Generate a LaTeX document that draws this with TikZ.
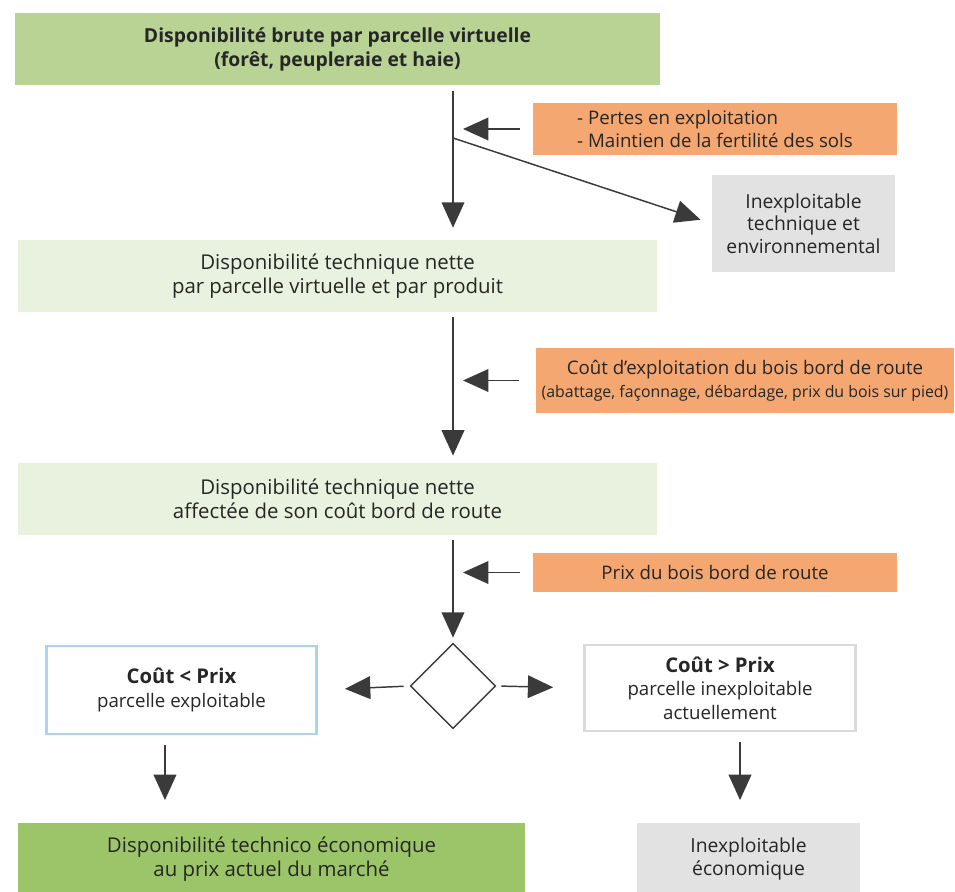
\documentclass[tikz,border=0pt]{standalone}
\usepackage{fontspec}
\setmainfont{Open Sans}
\usetikzlibrary{arrows.meta, positioning, shapes.geometric}

\definecolor{vertbrut}{HTML}{B8D394}
\definecolor{vertclair}{HTML}{E9F1DF}
\definecolor{vertfinal}{HTML}{9CC56A}
\definecolor{orangecout}{HTML}{F4A771}
\definecolor{grisinex}{HTML}{E1E2E1}
\definecolor{bleubord}{HTML}{A9D4EC}
\definecolor{grisbord}{HTML}{D9D9D9}
\definecolor{trait}{HTML}{3A3A3A}

\begin{document}
\begin{tikzpicture}[
    x=0.75pt, y=-0.75pt,
    every node/.style={font=\fontsize{15.3}{18}\selectfont, text=black!85, align=center, inner sep=0pt},
    petit/.style={font=\fontsize{14}{17.5}\selectfont},
    etape/.style={rectangle, minimum width=479pt, minimum height=54pt},
    cout/.style={rectangle, fill=orangecout, minimum width=273pt, minimum height=39pt, petit},
    rebut/.style={rectangle, fill=grisinex, minimum width=137pt, minimum height=73pt, font=\fontsize{14.5}{17}\selectfont},
    issue/.style={rectangle, fill=white, line width=2.2pt, minimum width=203pt, minimum height=66pt, petit},
    test/.style={diamond, draw=trait, line width=1pt, minimum size=64pt},
    fleche/.style={draw=trait, line width=1.1pt, -{Triangle[length=19pt, width=17pt]}}
]

\useasboundingbox (0,0) rectangle (955,891);

% axe vertical des fleches principales
\coordinate (axe) at (453,0);

% ============ Disponibilite brute ============
\node[etape, fill=vertbrut, minimum width=484pt, font=\fontsize{14.5}{18.5}\selectfont\bfseries] (brute) at (337.5,49.5) {Disponibilité brute par parcelle virtuelle\\(forêt, peupleraie et haie)};
\node[cout, align=left] (pertes) at (715,129) {- Pertes en exploitation\\- Maintien de la fertilité des sols};
\node[rebut] (inexTech) at (803.5,223.5) {Inexploitable\\technique et\\environnemental};

% ============ Disponibilite technique ============
\node[etape, fill=vertclair] (technique) at (337.5,276) {Disponibilité technique nette\\par parcelle virtuelle et par produit};
\node[cout, minimum width=314pt, minimum height=48.75pt] (exploitation) at (745,380.5) {Coût d'exploitation du bois bord de route\\{\fontsize{11.9}{17.5}\selectfont(abattage, façonnage, débardage, prix du bois sur pied)}};

% ============ Cout bord de route ============
\node[etape, fill=vertclair] (affectee) at (337.5,498.5) {Disponibilité technique nette\\affectée de son coût bord de route};
\node[cout, minimum height=29pt] (prix) at (715,572.5) {Prix du bois bord de route};

% ============ Comparaison ============
\node[test] (compare) at (453,686) {};
\node[issue, draw=bleubord] (exploitable) at (181.5,690) {{\fontsize{15.2}{17.5}\selectfont\bfseries Coût < Prix}\\parcelle exploitable};
\node[issue, draw=grisbord, minimum height=64.5pt] (actuel) at (720,688) {{\fontsize{15.2}{17.5}\selectfont\bfseries Coût > Prix}\\parcelle inexploitable\\actuellement};

% ============ Resultats ============
\node[rectangle, fill=vertfinal, minimum width=380pt, minimum height=54pt] (marche) at (271.5,859) {Disponibilité technico économique\\au prix actuel du marché};
\node[rebut, minimum width=167pt, minimum height=54pt] (inexEco) at (748.5,859) {Inexploitable\\économique};

% Fleches principales
\draw[fleche, shorten <=3.75pt, shorten >=9pt] (brute.south -| axe) -- (technique.north -| axe);
\draw[fleche, shorten <=3.75pt, shorten >=5pt] (technique.south -| axe) -- (affectee.north -| axe);
\draw[fleche, shorten <=3.75pt, shorten >=3.75pt] (affectee.south -| axe) -- (compare.north);

% Fleches des couts
\draw[fleche, shorten <=9.75pt, shorten >=7.5pt] (pertes.west) -- (pertes.west -| axe);
\draw[fleche, shorten <=12pt, shorten >=7.5pt] (exploitation.west) -- (exploitation.west -| axe);
\draw[fleche, shorten <=9.75pt, shorten >=7.5pt] (prix.west) -- (prix.west -| axe);

% Depart vers l'inexploitable technique
\coordinate (branche) at (453,138);
\draw[fleche, shorten >=9pt] (branche) -- (inexTech.west);

% Sorties du test
\draw[fleche, shorten <=4.5pt, shorten >=20pt] (compare.west) -- (exploitable.east);
\draw[fleche, shorten <=3.75pt, shorten >=22.5pt] (compare.east) -- (actuel.west);
\draw[fleche, shorten <=7.5pt, shorten >=17pt] ([xshift=-12.4pt]exploitable.south) -- ([xshift=-12.4pt]exploitable.south |- marche.north);
\draw[fleche, shorten <=7.5pt, shorten >=17pt] ([xshift=15pt]actuel.south) -- ([xshift=15pt]actuel.south |- inexEco.north);

\end{tikzpicture}
\end{document}
